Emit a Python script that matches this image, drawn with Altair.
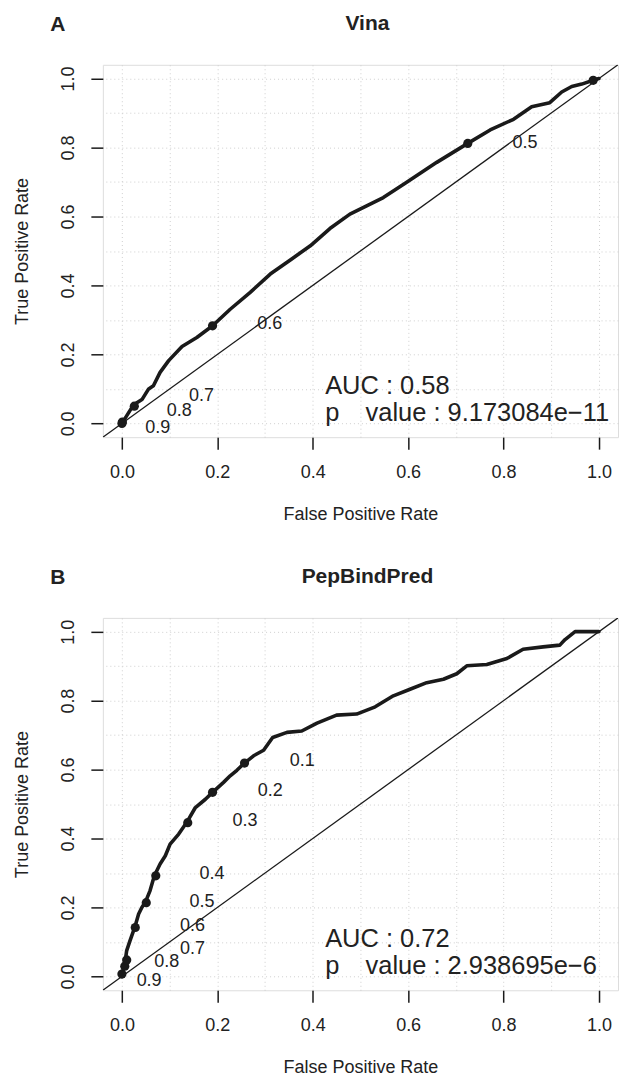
import altair as alt
import pandas as pd

FONT = "Liberation Sans"
INK = "#1a1a1a"
TXT = "#222222"
DOMAIN = [-0.04, 1.04]
TICKS = [0.0, 0.2, 0.4, 0.6, 0.8, 1.0]
GRID = [0.0, 0.1, 0.2, 0.3, 0.4, 0.5, 0.6, 0.7, 0.8, 0.9, 1.0]

# ---- Panel A: Vina ----
a_fpr = [0, 0.024, 0.042, 0.056, 0.066, 0.080, 0.098, 0.126, 0.157, 0.190, 0.227, 0.269,
         0.311, 0.353, 0.395, 0.436, 0.478, 0.513, 0.548, 0.597, 0.660, 0.725, 0.772, 0.821,
         0.859, 0.897, 0.922, 0.943, 0.964, 0.988, 1.0]
a_tpr = [0, 0.053, 0.069, 0.100, 0.109, 0.148, 0.182, 0.223, 0.249, 0.283, 0.331, 0.380,
         0.433, 0.474, 0.515, 0.565, 0.607, 0.631, 0.655, 0.699, 0.757, 0.812, 0.851, 0.882,
         0.918, 0.930, 0.961, 0.977, 0.984, 0.995, 1.0]
a_cut_x = [0.0, 0.001, 0.026, 0.190, 0.725, 0.988]
a_cut_y = [0.0, 0.004, 0.050, 0.283, 0.812, 0.995]
a_lab = ["0.9", "0.8", "0.7", "0.6", "0.5"]
a_lab_x = [0.075, 0.120, 0.167, 0.310, 0.845]
a_lab_y = [-0.012, 0.037, 0.078, 0.287, 0.814]
a_auc = ["AUC : 0.58", "p\u00a0\u00a0\u00a0\u2009value : 9.173084e\u221211"]

# ---- Panel B: PepBindPred ----
b_fpr = [0, 0.003, 0.007, 0.010, 0.017, 0.027, 0.035, 0.042, 0.049, 0.059, 0.068, 0.080,
         0.091, 0.101, 0.119, 0.136, 0.154, 0.175, 0.190, 0.213, 0.227, 0.241, 0.257, 0.276,
         0.297, 0.316, 0.346, 0.377, 0.409, 0.450, 0.492, 0.531, 0.569, 0.604, 0.639, 0.674,
         0.702, 0.723, 0.765, 0.807, 0.841, 0.883, 0.918, 0.929, 0.950, 1.0]
b_tpr = [0, 0.022, 0.046, 0.075, 0.104, 0.143, 0.181, 0.201, 0.215, 0.249, 0.292, 0.326,
         0.350, 0.384, 0.413, 0.447, 0.490, 0.514, 0.534, 0.563, 0.582, 0.598, 0.619, 0.640,
         0.656, 0.693, 0.708, 0.712, 0.735, 0.758, 0.761, 0.782, 0.814, 0.833, 0.852, 0.862,
         0.878, 0.901, 0.905, 0.922, 0.949, 0.956, 0.961, 0.977, 1.0, 1.0]
b_cut_x = [0.0, 0.006, 0.010, 0.028, 0.051, 0.071, 0.138, 0.190, 0.257]
b_cut_y = [0.007, 0.030, 0.048, 0.142, 0.214, 0.292, 0.446, 0.534, 0.619]
b_lab = ["0.9", "0.8", "0.7", "0.6", "0.5", "0.4", "0.3", "0.2", "0.1"]
b_lab_x = [0.057, 0.094, 0.148, 0.148, 0.168, 0.189, 0.258, 0.311, 0.378]
b_lab_y = [-0.012, 0.041, 0.081, 0.147, 0.217, 0.297, 0.452, 0.537, 0.624]
b_auc = ["AUC : 0.72", "p\u00a0\u00a0\u00a0\u2009value : 2.938695e\u22126"]

AUC_X = 0.426
AUC_Y = [0.108, 0.030]

xs = alt.Scale(domain=DOMAIN, nice=False, zero=False)
ys = alt.Scale(domain=DOMAIN, nice=False, zero=False)

grid_x = alt.Axis(orient="top", grid=True, gridDash=[1, 3], gridColor="#cfcfcf", gridWidth=1,
                  labels=False, ticks=False, domain=False, title=None, values=GRID)
grid_y = alt.Axis(orient="right", grid=True, gridDash=[1, 3], gridColor="#cfcfcf", gridWidth=1,
                  labels=False, ticks=False, domain=False, title=None, values=GRID)
main_x = alt.Axis(orient="bottom", values=TICKS, format=".1f", grid=False, domain=False,
                  tickSize=12, tickWidth=1.5, tickColor=INK, labelFont=FONT, labelFontSize=18,
                  labelColor=TXT, labelPadding=23, labelBaseline="middle", labelFlush=False,
                  labelOverlap=False, title="False Positive Rate", titleFont=FONT,
                  titleFontSize=18, titleFontWeight="normal", titleColor=TXT, titleY=77,
                  titleBaseline="middle")
main_y = alt.Axis(orient="left", values=TICKS, format=".1f", grid=False, domain=False,
                  tickSize=12, tickWidth=1.5, tickColor=INK, labelFont=FONT, labelFontSize=18,
                  labelColor=TXT, labelPadding=22, labelAngle=270, labelAlign="center",
                  labelBaseline="middle", labelFlush=False, labelOverlap=False,
                  title="True Positive Rate", titleFont=FONT, titleFontSize=18,
                  titleFontWeight="normal", titleColor=TXT, titleAngle=270, titleX=-80,
                  titleBaseline="middle", titleAlign="center")


def panel(letter, name, fpr, tpr, cx, cy, lab, lx, ly, auc, height):
    diag = alt.Chart(pd.DataFrame({"d": DOMAIN})).mark_line(
        color=INK, strokeWidth=1.3, clip=True
    ).encode(
        x=alt.X("d:Q", scale=xs, axis=grid_x),
        y=alt.Y("d:Q", scale=ys, axis=grid_y),
    )
    curve = alt.Chart(pd.DataFrame({"fpr": fpr, "tpr": tpr, "i": list(range(len(fpr)))})).mark_line(
        color=INK, strokeWidth=3.6, strokeJoin="round", strokeCap="round", clip=True
    ).encode(
        x=alt.X("fpr:Q", scale=xs, axis=main_x),
        y=alt.Y("tpr:Q", scale=ys, axis=main_y),
        order="i:Q",
    )
    dots = alt.Chart(pd.DataFrame({"cx": cx, "cy": cy})).mark_circle(
        color=INK, opacity=1, size=85, clip=True
    ).encode(
        x=alt.X("cx:Q", scale=xs, axis=None),
        y=alt.Y("cy:Q", scale=ys, axis=None),
    )
    labels = alt.Chart(pd.DataFrame({"lx": lx, "ly": ly, "t": lab})).mark_text(
        font=FONT, fontSize=18, color=TXT, align="center", baseline="middle", clip=True
    ).encode(
        x=alt.X("lx:Q", scale=xs, axis=None),
        y=alt.Y("ly:Q", scale=ys, axis=None),
        text="t:N",
    )
    auc_t = alt.Chart(pd.DataFrame({"ax": [AUC_X, AUC_X], "ay": AUC_Y, "t": auc})).mark_text(
        font=FONT, fontSize=25.5, color=TXT, align="left", baseline="middle", clip=True
    ).encode(
        x=alt.X("ax:Q", scale=xs, axis=None),
        y=alt.Y("ay:Q", scale=ys, axis=None),
        text="t:N",
    )
    tag = alt.Chart(pd.DataFrame({"t": [letter]})).mark_text(
        font=FONT, fontSize=21, fontWeight="bold", color=TXT, align="center", baseline="middle"
    ).encode(
        x=alt.value(-45),
        y=alt.value(-40),
        text="t:N",
    )
    return alt.layer(diag, curve, dots, labels, auc_t, tag).properties(
        width=516,
        height=height,
        title=alt.TitleParams(
            name, font=FONT, fontSize=21, fontWeight="bold", color=TXT,
            anchor="middle", frame="group", baseline="top", offset=0, dx=7, dy=20,
        ),
    )


pa = panel("A", "Vina", a_fpr, a_tpr, a_cut_x, a_cut_y, a_lab, a_lab_x, a_lab_y, a_auc, 373)
pb = panel("B", "PepBindPred", b_fpr, b_tpr, b_cut_x, b_cut_y, b_lab, b_lab_x, b_lab_y, b_auc, 373)

chart = alt.vconcat(pa, pb, spacing=41).properties(
    padding={"left": 5, "top": 3, "right": 0, "bottom": 0},
    background="white",
).configure_view(
    stroke=INK, strokeWidth=2
).configure(font=FONT)

chart.save("out.html", embed_options={"renderer": "svg", "actions": False})
